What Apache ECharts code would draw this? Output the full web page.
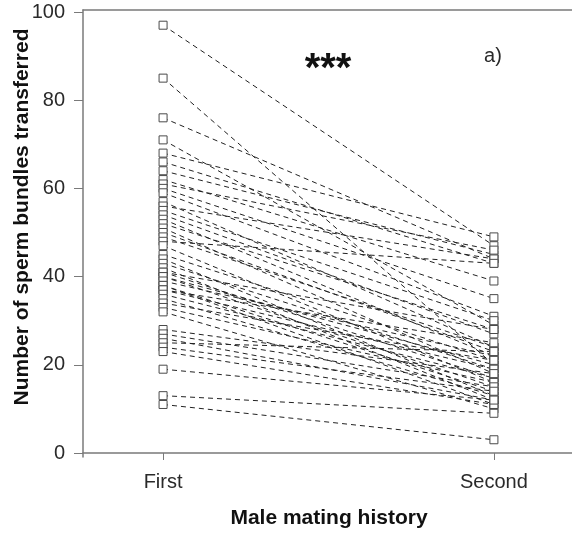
<!DOCTYPE html>
<html>
<head>
<meta charset="utf-8">
<script src="https://cdn.jsdelivr.net/npm/echarts@6/dist/echarts.min.js"></script>
<style>
  html, body { margin: 0; padding: 0; background: #fff; }
  #chart { width: 572px; height: 536px; }
</style>
</head>
<body>
<div id="chart"></div>
<script>
// Sperm bundles transferred by each male at his first and second mating
const firstMating = [97, 85, 76, 71, 68, 66, 64, 62, 61, 60, 59, 57, 56, 55, 54, 53, 52, 51, 50, 49,
  48, 47, 45, 44, 43, 42, 41, 41, 40, 40, 39, 38, 38, 37, 37, 36, 35, 34, 33, 32,
  28, 27, 26, 25, 24, 23, 19, 13, 11];
const secondMating = [47, 20, 44, 29, 49, 43, 45, 39, 46, 35, 31, 24, 44, 30, 27, 22, 28, 18, 23, 24,
  43, 16, 21, 13, 19, 12, 28, 17, 20, 15, 22, 14, 11, 25, 19, 17, 13, 21, 16, 10,
  18, 15, 12, 23, 14, 11, 12, 9, 3];
const historyLabels = ['First', 'Second'];
const historyPositions = [1, 2];
const yTicks = [0, 20, 40, 60, 80, 100];

const FONT = '"Liberation Sans", Arial, sans-serif';

const series = firstMating.map((v, i) => ({
  type: 'line',
  data: [[historyPositions[0], v], [historyPositions[1], secondMating[i]]],
  symbol: 'rect',
  symbolSize: 8,
  showSymbol: true,
  itemStyle: { color: '#fff', borderColor: '#4a4a4a', borderWidth: 1 },
  lineStyle: { color: '#222', width: 1, type: [5, 4] },
  emphasis: { disabled: true },
  silent: true,
  z: 2
}));

const chart = echarts.init(document.getElementById('chart'), null, { renderer: 'canvas' });
chart.setOption({
  animation: false,
  backgroundColor: '#fff',
  grid: { left: 83, right: 0, top: 10, bottom: 79, containLabel: false },
  xAxis: [{
    type: 'value',
    min: 0.758,
    max: 2.236,
    axisLine: { show: true, lineStyle: { color: '#7a7a7a', width: 1.5 } },
    axisTick: { show: true, customValues: historyPositions, length: 7, lineStyle: { color: '#7a7a7a' } },
    axisLabel: {
      customValues: historyPositions,
      formatter: v => historyLabels[historyPositions.indexOf(v)],
      margin: 15,
      fontFamily: FONT, fontSize: 20, color: '#2a2a2a'
    },
    splitLine: { show: false }
  }, {
    type: 'value',
    position: 'top',
    min: 0.758,
    max: 2.236,
    axisLine: { show: true, lineStyle: { color: '#7a7a7a', width: 1.5 } },
    axisTick: { show: false },
    axisLabel: { show: false },
    splitLine: { show: false }
  }],
  yAxis: {
    type: 'value',
    min: -0.91,
    max: 100.45,
    axisLine: { show: true, lineStyle: { color: '#7a7a7a', width: 1.5 } },
    axisTick: { show: true, customValues: yTicks, length: 9, lineStyle: { color: '#7a7a7a' } },
    axisLabel: {
      customValues: yTicks,
      margin: 18,
      fontFamily: FONT, fontSize: 20, color: '#2a2a2a'
    },
    splitLine: { show: false }
  },
  graphic: [
    {
      type: 'text', x: 22, y: 217, rotation: Math.PI / 2,
      style: {
        text: 'Number of sperm bundles transferred',
        font: 'bold 21px ' + FONT, fill: '#111',
        textAlign: 'center', textVerticalAlign: 'middle'
      }
    },
    {
      type: 'text', x: 329, y: 518,
      style: {
        text: 'Male mating history',
        font: 'bold 21px ' + FONT, fill: '#111',
        textAlign: 'center', textVerticalAlign: 'middle'
      }
    },
    {
      type: 'text', x: 328, y: 70,
      style: {
        text: '***',
        font: 'bold 40px ' + FONT, fill: '#111',
        textAlign: 'center', textVerticalAlign: 'middle'
      }
    },
    {
      type: 'text', x: 493, y: 56,
      style: {
        text: 'a)',
        font: '20px ' + FONT, fill: '#2a2a2a',
        textAlign: 'center', textVerticalAlign: 'middle'
      }
    }
  ],
  series: series
});
</script>
</body>
</html>
